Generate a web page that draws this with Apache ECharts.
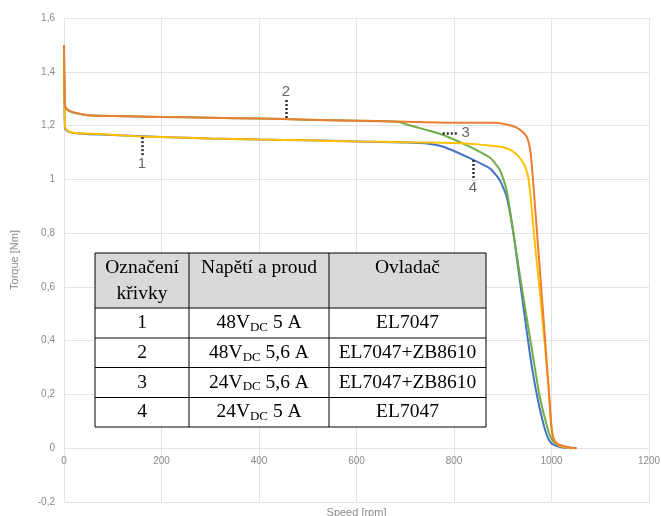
<!DOCTYPE html>
<html>
<head>
<meta charset="utf-8">
<script src="https://cdn.jsdelivr.net/npm/echarts@6/dist/echarts.min.js"></script>
<style>
  html, body { margin: 0; padding: 0; background: #fff; }
  #chart { width: 661px; height: 516px; }
</style>
</head>
<body>
<div id="chart"></div>
<script>
// Curve 1: 48 V DC, 5 A, EL7047
const speed1  = [0, 2, 8, 20, 40, 80, 150, 200, 300, 400, 500, 600, 700, 800, 850, 880, 900, 920, 935, 946, 953, 959, 966, 974, 984, 994, 1000, 1006, 1015, 1030, 1040];
const torque1 = [1.5, 1.196, 1.18, 1.173, 1.17, 1.168, 1.16, 1.157, 1.152, 1.148, 1.145, 1.141, 1.138, 1.135, 1.13, 1.124, 1.12, 1.105, 1.08, 1.046, 1.0, 0.9, 0.76, 0.62, 0.43, 0.23, 0.075, 0.028, 0.011, 0.003, 0];

// Curve 2: 48 V DC, 5.6 A, EL7047+ZB8610
const speed2  = [0, 2, 6, 15, 30, 50, 70, 100, 150, 200, 300, 400, 500, 600, 700, 800, 850, 880, 905, 925, 940, 950, 957, 962, 967, 975, 985, 995, 1001, 1007, 1017, 1035, 1052];
const torque2 = [1.5, 1.275, 1.262, 1.252, 1.245, 1.238, 1.236, 1.236, 1.234, 1.232, 1.229, 1.226, 1.222, 1.218, 1.214, 1.21, 1.21, 1.21, 1.205, 1.195, 1.178, 1.155, 1.1, 1.0, 0.88, 0.69, 0.45, 0.2, 0.06, 0.025, 0.012, 0.004, 0];

// Curve 3: 24 V DC, 5.6 A, EL7047+ZB8610
const speed3  = [0, 2, 6, 15, 30, 50, 100, 200, 300, 400, 500, 600, 685, 710, 745, 778, 833, 874, 894, 908, 921, 932, 946, 960, 975, 993, 1000, 1010, 1030, 1050];
const torque3 = [1.5, 1.27, 1.26, 1.25, 1.244, 1.238, 1.236, 1.232, 1.229, 1.226, 1.222, 1.218, 1.214, 1.2, 1.183, 1.165, 1.121, 1.08, 1.035, 0.96, 0.81, 0.68, 0.52, 0.365, 0.2, 0.067, 0.035, 0.015, 0.005, 0];

// Curve 4: 24 V DC, 5 A, EL7047
const speed4  = [0, 2, 8, 20, 50, 100, 200, 300, 400, 500, 600, 700, 740, 778, 826, 874, 894, 908, 921, 935, 948, 960, 972, 985, 995, 1005, 1020, 1040];
const torque4 = [1.5, 1.19, 1.178, 1.172, 1.168, 1.165, 1.157, 1.152, 1.148, 1.145, 1.141, 1.137, 1.134, 1.121, 1.084, 1.04, 0.997, 0.935, 0.81, 0.625, 0.45, 0.3, 0.18, 0.08, 0.03, 0.012, 0.004, 0];

// Curve markers (dotted leader + number)
const markerText = ['1', '2', '3', '4'];
const markerFrom = [[160, 1.157], [455, 1.228], [777, 1.172], [839, 1.072]];
const markerTo   = [[160, 1.090], [455, 1.295], [808, 1.172], [839, 0.997]];
const markerAt   = [[160, 1.058], [455, 1.327], [824, 1.172], [839, 0.968]];

// Legend table content
const tableHeader  = [['Označení', 'křivky'], ['Napětí a proud'], ['Ovladač']];
const curveIds     = ['1', '2', '3', '4'];
const voltages     = ['48V', '48V', '24V', '24V'];
const currents     = ['5 A', '5,6 A', '5,6 A', '5 A'];
const controllers  = ['EL7047', 'EL7047+ZB8610', 'EL7047+ZB8610', 'EL7047'];

const zip = (xs, ys) => xs.map((x, i) => [x, ys[i]]);

// Table layout (pixels)
const colX = [95, 189, 329, 486];
const rowY = [253, 308, 338, 367.5, 397.5, 427];
const serif = '"Liberation Serif", "Times New Roman", serif';
const tFont = 19.5;

function buildTable() {
  const els = [];
  els.push({ type: 'rect', shape: { x: colX[0], y: rowY[0], width: colX[3] - colX[0], height: rowY[5] - rowY[0] },
             style: { fill: '#fff' }, z: 100 });
  els.push({ type: 'rect', shape: { x: colX[0], y: rowY[0], width: colX[3] - colX[0], height: rowY[1] - rowY[0] },
             style: { fill: '#d9d9d9' }, z: 100 });
  rowY.forEach(y => els.push({ type: 'line', shape: { x1: colX[0], y1: y, x2: colX[3], y2: y },
                               style: { stroke: '#000', lineWidth: 1 }, z: 102 }));
  colX.forEach(x => els.push({ type: 'line', shape: { x1: x, y1: rowY[0], x2: x, y2: rowY[5] },
                               style: { stroke: '#000', lineWidth: 1 }, z: 102 }));
  const cx = i => (colX[i] + colX[i + 1]) / 2;
  const txt = (text, x, y, extra) => ({
    type: 'text', z: 103,
    style: Object.assign({ text, x, y, align: 'center', verticalAlign: 'middle',
                           fontFamily: serif, fontSize: tFont, fill: '#000' }, extra || {})
  });
  tableHeader.forEach((lines, c) => {
    lines.forEach((line, k) => els.push(txt(line, cx(c), 268 + k * 26)));
  });
  curveIds.forEach((id, r) => {
    const y = (rowY[r + 1] + rowY[r + 2]) / 2;
    els.push(txt(id, cx(0), y));
    els.push(txt('{n|' + voltages[r] + '}{s|DC}{n| ' + currents[r] + '}', cx(1), y, {
      rich: {
        n: { fontFamily: serif, fontSize: tFont, lineHeight: 22, fill: '#000' },
        s: { fontFamily: serif, fontSize: 13, lineHeight: 13, verticalAlign: 'bottom', fill: '#000' }
      }
    }));
    els.push(txt(controllers[r], cx(2), y));
  });
  return els;
}

const colors = { c1: '#FFC000', c2: '#ED7D31', c3: '#70AD47', c4: '#4472C4' };
const lineSeries = (name, data, color, z) => ({
  name, type: 'line', data, showSymbol: false, symbol: 'none', smooth: 0.2, z,
  lineStyle: { color, width: 2 }, itemStyle: { color }, animation: false
});
const fmtY = v => String(Math.round(v * 10) / 10).replace('.', ',');
const axisGray = '#8a8a8a';
const sans = '"Liberation Sans", Arial, sans-serif';

const chart = echarts.init(document.getElementById('chart'));
chart.setOption({
  animation: false,
  grid: { left: 64, right: 12, top: 18, bottom: 14, containLabel: false, outerBoundsMode: 'none' },
  xAxis: {
    type: 'value', min: 0, max: 1200, interval: 200,
    name: 'Speed [rpm]', nameLocation: 'middle', nameGap: 3,
    nameTextStyle: { color: axisGray, fontSize: 11, fontFamily: sans },
    axisLine: { show: true, onZero: false, lineStyle: { color: '#e3e3e3' } },
    axisTick: { show: false },
    // speed labels sit just under the zero-torque line
    axisLabel: { inside: true, verticalAlign: 'middle', margin: 41, color: axisGray,
                 fontSize: 10, fontFamily: sans, formatter: v => String(v) },
    splitLine: { show: true, lineStyle: { color: '#e3e3e3', width: 1 } }
  },
  yAxis: {
    type: 'value', min: -0.2, max: 1.6, interval: 0.2,
    name: 'Torque [Nm]', nameLocation: 'middle', nameGap: 44, nameRotate: 90,
    nameTextStyle: { color: axisGray, fontSize: 11, fontFamily: sans },
    axisLine: { show: false }, axisTick: { show: false },
    axisLabel: { color: axisGray, fontSize: 10, fontFamily: sans, margin: 9, formatter: fmtY },
    splitLine: { show: true, lineStyle: { color: '#e3e3e3', width: 1 } }
  },
  series: [
    lineSeries('4', zip(speed4, torque4), colors.c4, 2),
    lineSeries('3', zip(speed3, torque3), colors.c3, 3),
    lineSeries('1', zip(speed1, torque1), colors.c1, 4),
    lineSeries('2', zip(speed2, torque2), colors.c2, 5),
    {
      type: 'lines', coordinateSystem: 'cartesian2d', z: 6, animation: false,
      data: markerFrom.map((p, i) => ({ coords: [p, markerTo[i]] })),
      lineStyle: { color: '#2b2b2b', width: 2.5, type: [2, 2], opacity: 1 }
    },
    {
      type: 'scatter', z: 6, symbolSize: 2, animation: false,
      itemStyle: { color: 'rgba(0,0,0,0)' },
      data: markerAt.map((p, i) => ({ value: p, name: markerText[i] })),
      label: { show: true, position: 'inside', formatter: p => p.name,
               color: '#404040', fontSize: 15, fontFamily: sans }
    }
  ],
  graphic: buildTable()
});
</script>
</body>
</html>
